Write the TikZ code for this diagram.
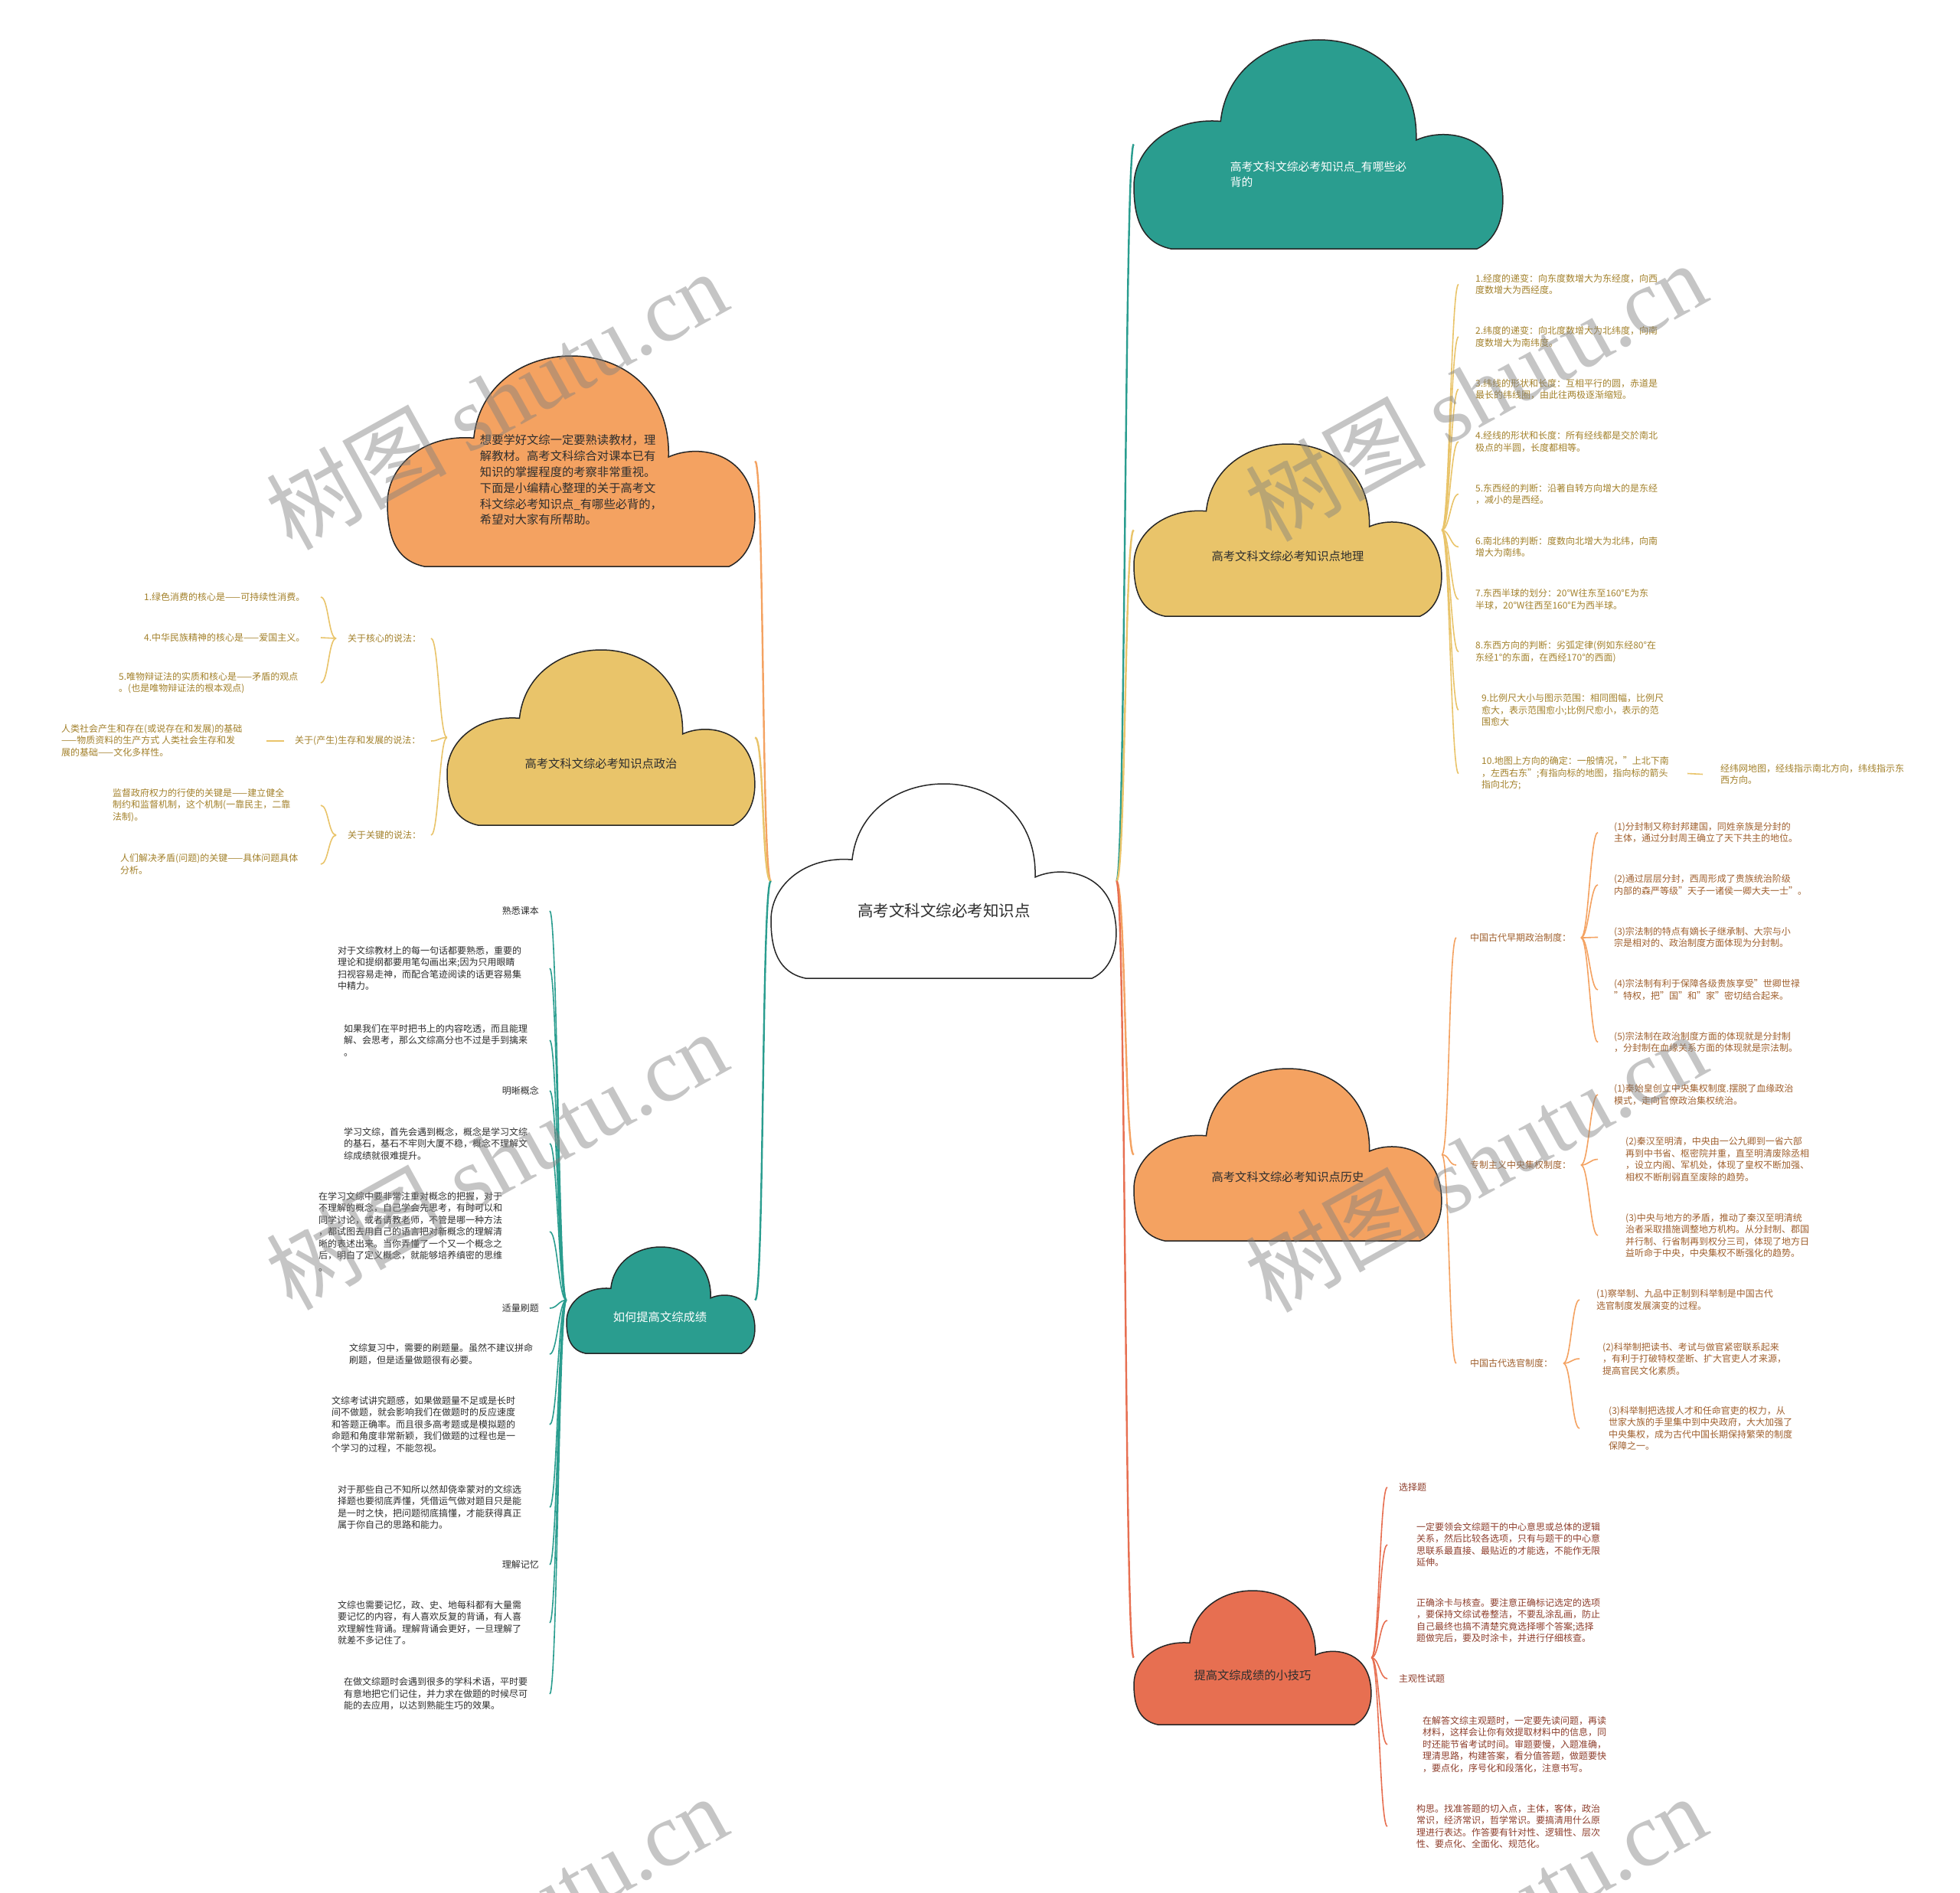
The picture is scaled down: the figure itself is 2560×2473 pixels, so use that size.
\documentclass[tikz,border=0pt]{standalone}
\usepackage{fontspec}
\setmainfont{Noto Sans CJK SC}
\newfontfamily\wmserif{Liberation Serif}
\usetikzlibrary{calc}
\definecolor{cteal}{HTML}{2A9D8F}
\definecolor{cyel}{HTML}{E9C46A}
\definecolor{cora}{HTML}{F4A261}
\definecolor{cred}{HTML}{E76F51}
\definecolor{tyel}{HTML}{A3812B}
\definecolor{tora}{HTML}{A0602E}
\definecolor{tred}{HTML}{8E3E2C}
\definecolor{tdark}{HTML}{2E2E2E}
\newcommand\cloudpath{(0.10,1) .. controls (0.02,0.97) and (0,0.85) .. (0,0.70) .. controls (0,0.52) and (0.1,0.37) .. (0.235,0.39) .. controls (0.25,0.14) and (0.37,0) .. (0.50,0) .. controls (0.65,0) and (0.77,0.18) .. (0.765,0.48) .. controls (0.84,0.42) and (0.97,0.45) .. (0.995,0.68) .. controls (1.01,0.82) and (0.99,0.95) .. (0.93,1) -- cycle}
\newcommand\drawcloud[6]{%
  \begin{scope}[shift={(#2,#3)}, x={(#4-#2,0)}, y={(0,#5-#3)}]
    \filldraw[fill=#6, draw=black!85, line width=1.5pt] \cloudpath;
  \end{scope}
  \node[minimum width={(#4-#2)*1pt}, minimum height={(#5-#3)*1pt}, inner sep=0pt, draw=none] (#1) at ({(#2+#4)/2},{(#3+#5)/2}) {};
}
\tikzset{
  mainln/.style={line width=2.4pt},
  subln/.style={line width=1.6pt},
  leaf/.style={inner sep=0pt, align=left, font=\fontsize{12}{15.5}\selectfont},
  cloudtxt/.style={inner sep=0pt, align=left, text=tdark, font=\fontsize{15.3}{20.8}\selectfont},
  wm/.style={rotate=29, text=gray, opacity=0.45, inner sep=0pt, font=\fontsize{118}{118}\selectfont}
}
\begin{document}
\begin{tikzpicture}[x=1pt,y=-1pt]
\fill[white] (0,0) rectangle (2560,2473);
\useasboundingbox (0,0) rectangle (2560,2473);

% ---------- text nodes ----------
% geography
\begin{scope}[every node/.style={leaf, text=tyel, anchor=west}]
\node (g1) at (1927,371.5) {1.经度的递变：向东度数增大为东经度，向西\\度数增大为西经度。};
\node (g2) at (1927,440) {2.纬度的递变：向北度数增大为北纬度，向南\\度数增大为南纬度。};
\node (g3) at (1927,508.5) {3.纬线的形状和长度：互相平行的圆，赤道是\\最长的纬线圈，由此往两极逐渐缩短。};
\node (g4) at (1927,577) {4.经线的形状和长度：所有经线都是交於南北\\极点的半圆，长度都相等。};
\node (g5) at (1927,645.5) {5.东西经的判断：沿著自转方向增大的是东经\\，减小的是西经。};
\node (g6) at (1927,714.5) {6.南北纬的判断：度数向北增大为北纬，向南\\增大为南纬。};
\node (g7) at (1927,783) {7.东西半球的划分：20°W往东至160°E为东\\半球，20°W往西至160°E为西半球。};
\node (g8) at (1927,851.5) {8.东西方向的判断：劣弧定律(例如东经80°在\\东经1°的东面，在西经170°的西面)};
\node (g9) at (1935,927.5) {9.比例尺大小与图示范围：相同图幅，比例尺\\愈大，表示范围愈小;比例尺愈小，表示的范\\围愈大};
\node (g10) at (1935,1010.5) {10.地图上方向的确定：一般情况，"上北下南\\，左西右东";有指向标的地图，指向标的箭头\\指向北方;};
\node (g10a) at (2247,1011.5) {经纬网地图，经线指示南北方向，纬线指示东\\西方向。};
\end{scope}

% history
\begin{scope}[every node/.style={leaf, text=tora, anchor=west}]
\node (hA) at (1920,1225) {中国古代早期政治制度：};
\node (hA1) at (2108,1087.5) {(1)分封制又称封邦建国，同姓亲族是分封的\\主体，通过分封周王确立了天下共主的地位。};
\node (hA2) at (2108,1156) {(2)通过层层分封，西周形成了贵族统治阶级\\内部的森严等级"天子一诸侯一卿大夫一士"。};
\node (hA3) at (2108,1224.5) {(3)宗法制的特点有嫡长子继承制、大宗与小\\宗是相对的、政治制度方面体现为分封制。};
\node (hA4) at (2108,1293) {(4)宗法制有利于保障各级贵族享受"世卿世禄\\"特权，把"国"和"家"密切结合起来。};
\node (hA5) at (2108,1361.5) {(5)宗法制在政治制度方面的体现就是分封制\\，分封制在血缘关系方面的体现就是宗法制。};
\node (hB) at (1920,1522) {专制主义中央集权制度：};
\node (hB1) at (2108,1430) {(1)秦始皇创立中央集权制度.摆脱了血缘政治\\模式，走向官僚政治集权统治。};
\node (hB2) at (2123,1514.5) {(2)秦汉至明清，中央由一公九卿到一省六部\\再到中书省、枢密院并重，直至明清废除丞相\\，设立内阁、军机处，体现了皇权不断加强、\\相权不断削弱直至废除的趋势。};
\node (hB3) at (2123,1614) {(3)中央与地方的矛盾，推动了秦汉至明清统\\治者采取措施调整地方机构。从分封制、郡国\\并行制、行省制再到权分三司，体现了地方日\\益听命于中央，中央集权不断强化的趋势。};
\node (hC) at (1920,1781) {中国古代选官制度：};
\node (hC1) at (2085,1698) {(1)察举制、九品中正制到科举制是中国古代\\选官制度发展演变的过程。};
\node (hC2) at (2093,1775) {(2)科举制把读书、考试与做官紧密联系起来\\，有利于打破特权垄断、扩大官吏人才来源，\\提高官民文化素质。};
\node (hC3) at (2101,1866) {(3)科举制把选拔人才和任命官吏的权力，从\\世家大族的手里集中到中央政府，大大加强了\\中央集权，成为古代中国长期保持繁荣的制度\\保障之一。};
\end{scope}

% tips
\begin{scope}[every node/.style={leaf, text=tred, anchor=west}]
\node (k1) at (1827,1943) {选择题};
\node (k2) at (1850,2018) {一定要领会文综题干的中心意思或总体的逻辑\\关系，然后比较各选项，只有与题干的中心意\\思联系最直接、最贴近的才能选，不能作无限\\延伸。};
\node (k3) at (1850,2117) {正确涂卡与核查。要注意正确标记选定的选项\\，要保持文综试卷整洁，不要乱涂乱画，防止\\自己最终也搞不清楚究竟选择哪个答案;选择\\题做完后，要及时涂卡，并进行仔细核查。};
\node (k4) at (1827,2193) {主观性试题};
\node (k5) at (1858,2279) {在解答文综主观题时，一定要先读问题，再读\\材料，这样会让你有效提取材料中的信息，同\\时还能节省考试时间。审题要慢，入题准确，\\理清思路，构建答案，看分值答题，做题要快\\，要点化，序号化和段落化，注意书写。};
\node (k6) at (1850,2386) {构思。找准答题的切入点，主体，客体，政治\\常识，经济常识，哲学常识。要搞清用什么原\\理进行表达。作答要有针对性、逻辑性、层次\\性、要点化、全面化、规范化。};
\end{scope}

% teal left section
\begin{scope}[every node/.style={leaf, text=tdark, anchor=west}]
\node[anchor=east] (r1) at (704,1190) {熟悉课本};
\node (r2) at (441,1265) {对于文综教材上的每一句话都要熟悉，重要的\\理论和提纲都要用笔勾画出来;因为只用眼睛\\扫视容易走神，而配合笔迹阅读的话更容易集\\中精力。};
\node (r3) at (449,1359) {如果我们在平时把书上的内容吃透，而且能理\\解、会思考，那么文综高分也不过是手到擒来\\。};
\node[anchor=east] (r4) at (704,1425) {明晰概念};
\node (r5) at (449,1494) {学习文综，首先会遇到概念，概念是学习文综\\的基石，基石不牢则大厦不稳，概念不理解文\\综成绩就很难提升。};
\node (r6) at (416,1609) {在学习文综中要非常注重对概念的把握，对于\\不理解的概念，自己学会先思考，有时可以和\\同学讨论，或者请教老师，不管是哪一种方法\\，都试图去用自己的语言把对新概念的理解清\\晰的表述出来。当你弄懂了一个又一个概念之\\后，明白了定义概念，就能够培养缜密的思维\\。};
\node[anchor=east] (r7) at (704,1709) {适量刷题};
\node (r8) at (456,1769) {文综复习中，需要的刷题量。虽然不建议拼命\\刷题，但是适量做题很有必要。};
\node (r9) at (433,1861) {文综考试讲究题感，如果做题量不足或是长时\\间不做题，就会影响我们在做题时的反应速度\\和答题正确率。而且很多高考题或是模拟题的\\命题和角度非常新颖，我们做题的过程也是一\\个学习的过程，不能忽视。};
\node (r10) at (441,1969) {对于那些自己不知所以然却侥幸蒙对的文综选\\择题也要彻底弄懂，凭借运气做对题目只是能\\是一时之快，把问题彻底搞懂，才能获得真正\\属于你自己的思路和能力。};
\node[anchor=east] (r11) at (704,2044) {理解记忆};
\node (r12) at (441,2120) {文综也需要记忆，政、史、地每科都有大量需\\要记忆的内容，有人喜欢反复的背诵，有人喜\\欢理解性背诵。理解背诵会更好，一旦理解了\\就差不多记住了。};
\node (r13) at (449,2213) {在做文综题时会遇到很多的学科术语，平时要\\有意地把它们记住，并力求在做题的时候尽可\\能的去应用，以达到熟能生巧的效果。};
\end{scope}

% politics
\begin{scope}[every node/.style={leaf, text=tyel, anchor=west}]
\node (pA) at (454,834) {关于核心的说法：};
\node (pA1) at (188,780) {1.绿色消费的核心是——可持续性消费。};
\node (pA2) at (188,833) {4.中华民族精神的核心是——爱国主义。};
\node (pA3) at (155,892) {5.唯物辩证法的实质和核心是——矛盾的观点\\。(也是唯物辩证法的根本观点)};
\node (pB) at (385,968) {关于(产生)生存和发展的说法：};
\node (pB1) at (80,967) {人类社会产生和存在(或说存在和发展)的基础\\——物质资料的生产方式 人类社会生存和发\\展的基础——文化多样性。};
\node (pC) at (454,1091) {关于关键的说法：};
\node (pC1) at (147,1052) {监督政府权力的行使的关键是——建立健全\\制约和监督机制，这个机制(一靠民主，二靠\\法制)。};
\node (pC2) at (157,1129) {人们解决矛盾(问题)的关键——具体问题具体\\分析。};
\end{scope}

% ---------- cloud boxes (named) ----------
\drawcloud{c0}{1007}{1024}{1458}{1278}{white}
\drawcloud{cT}{1481}{52}{1963}{325}{cteal}
\drawcloud{cG}{1481}{580}{1883}{805}{cyel}
\drawcloud{cH}{1481}{1396}{1883}{1621}{cora}
\drawcloud{cK}{1481}{2078}{1791}{2253}{cred}
\drawcloud{cI}{506}{465}{986}{740}{cora}
\drawcloud{cP}{584}{849}{986}{1078}{cyel}
\drawcloud{cR}{740}{1629}{986}{1768}{cteal}

\node[cloudtxt, font=\fontsize{20.5}{24}\selectfont] (c0t) at (1233,1190) {高考文科文综必考知识点};
\node[cloudtxt, text=white, font=\fontsize{14.8}{20.5}\selectfont] (cTt) at (1722,228) {高考文科文综必考知识点\_有哪些必\\背的};
\node[cloudtxt] (cGt) at (1682,727) {高考文科文综必考知识点地理};
\node[cloudtxt] (cHt) at (1682,1538) {高考文科文综必考知识点历史};
\node[cloudtxt] (cKt) at (1636,2189) {提高文综成绩的小技巧};
\node[cloudtxt] (cIt) at (746,627) {想要学好文综一定要熟读教材，理\\解教材。高考文科综合对课本已有\\知识的掌握程度的考察非常重视。\\下面是小编精心整理的关于高考文\\科文综必考知识点\_有哪些必背的，\\希望对大家有所帮助。};
\node[cloudtxt] (cPt) at (785,998) {高考文科文综必考知识点政治};
\node[cloudtxt, text=white] (cRt) at (862,1721) {如何提高文综成绩};

% ---------- x-positions for connector ends ----------
\coordinate (gx) at (1905,0);
\coordinate (gd1) at (2204,0);
\coordinate (gd2) at (2224,0);
\coordinate (hx) at (1902,0);
\coordinate (hAs) at (2065,0);
\coordinate (hAe) at (2087,0);
\coordinate (hCs) at (2042,0);
\coordinate (hCe) at (2063,0);
\coordinate (kx) at (1812,0);
\coordinate (rx) at (718,0);
\coordinate (pxa) at (563,0);
\coordinate (pxb) at (439,0);
\coordinate (pxc) at (419,0);
\coordinate (pbs) at (371,0);
\coordinate (pbe) at (348,0);

% ---------- connectors ----------
\draw[mainln, cteal] (c0.east) .. controls +(12,0) and +(-12,0) .. (cT.west);
\draw[mainln, cyel] (c0.east) .. controls +(12,0) and +(-12,0) .. (cG.west);
\draw[mainln, cora] (c0.east) .. controls +(12,0) and +(-12,0) .. (cH.west);
\draw[mainln, cred] (c0.east) .. controls +(12,0) and +(-12,0) .. (cK.west);
\draw[mainln, cora] (c0.west) .. controls +(-12,0) and +(12,0) .. (cI.east);
\draw[mainln, cyel] (c0.west) .. controls +(-12,0) and +(12,0) .. (cP.east);
\draw[mainln, cteal] (c0.west) .. controls +(-12,0) and +(12,0) .. (cR.east);

\foreach \n in {g1,g2,g3,g4,g5,g6,g7,g8,g9,g10}
  \draw[subln, cyel] (cG.east) .. controls +(10,0) and +(-10,0) .. (\n.west -| gx);
\draw[subln, cyel] (g10.east -| gd1) -- (g10a.west -| gd2);

\foreach \n in {hA,hB,hC}
  \draw[subln, cora] (cH.east) .. controls +(10,0) and +(-10,0) .. (\n.west -| hx);
\foreach \n in {hA1,hA2,hA3,hA4,hA5}
  \draw[subln, cora] (hA.east -| hAs) .. controls +(10,0) and +(-10,0) .. (\n.west -| hAe);
\foreach \n in {hB1,hB2,hB3}
  \draw[subln, cora] (hB.east -| hAs) .. controls +(10,0) and +(-10,0) .. (\n.west -| hAe);
\foreach \n in {hC1,hC2,hC3}
  \draw[subln, cora] (hC.east -| hCs) .. controls +(10,0) and +(-10,0) .. (\n.west -| hCe);

\foreach \n in {k1,k2,k3,k4,k5,k6}
  \draw[subln, cred] (cK.east) .. controls +(10,0) and +(-10,0) .. (\n.west -| kx);

\foreach \n in {r1,r2,r3,r4,r5,r6,r7,r8,r9,r10,r11,r12,r13}
  \draw[subln, cteal] (cR.west) .. controls +(-10,0) and +(10,0) .. (\n.east -| rx);

\foreach \n in {pA,pB,pC}
  \draw[subln, cyel] (cP.west) .. controls +(-10,0) and +(10,0) .. (\n.east -| pxa);
\foreach \n in {pA1,pA2,pA3}
  \draw[subln, cyel] (pA.west -| pxb) .. controls +(-10,0) and +(10,0) .. (\n.east -| pxc);
\draw[subln, cyel] (pB.west -| pbs) -- (pB.west -| pbe);
\foreach \n in {pC1,pC2}
  \draw[subln, cyel] (pC.west -| pxb) .. controls +(-10,0) and +(10,0) .. (\n.east -| pxc);

% ---------- watermarks ----------
\node[wm] (w1) at (648,522) {树图 {\wmserif shutu.cn}};
\node[wm] (w2) at (1927,511) {树图 {\wmserif shutu.cn}};
\node[wm] (w3) at (648,1515) {树图 {\wmserif shutu.cn}};
\node[wm] (w4) at (1927,1518) {树图 {\wmserif shutu.cn}};
\node[wm] (w5) at (648,2514) {树图 {\wmserif shutu.cn}};
\node[wm] (w6) at (1927,2514) {树图 {\wmserif shutu.cn}};
\end{tikzpicture}
\end{document}
